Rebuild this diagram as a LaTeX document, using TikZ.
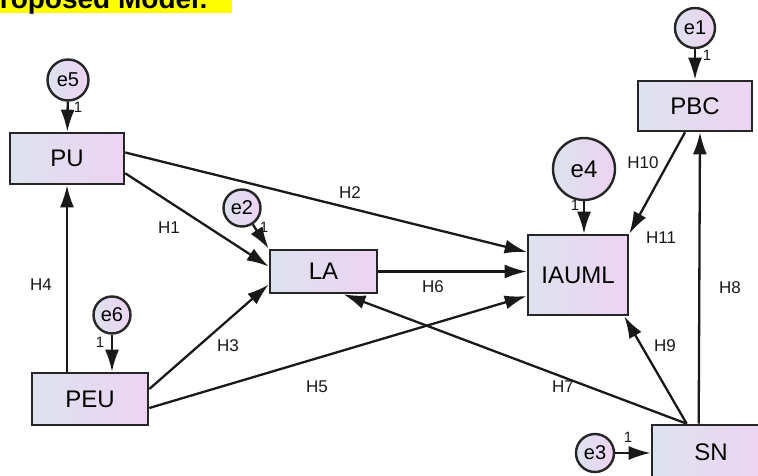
\documentclass[tikz,border=0pt]{standalone}
\usepackage{fontspec}
\setmainfont{Liberation Sans}
\usepackage{xcolor}
\usepackage{tikz}
\usetikzlibrary{arrows.meta, positioning, calc}

\definecolor{boxleft}{RGB}{221,226,238}
\definecolor{boxright}{RGB}{237,211,242}
\definecolor{banner}{RGB}{255,255,0}

\tikzset{
  construct/.style={rectangle, draw=black!85, line width=2.6pt, left color=boxleft,
    right color=boxright, inner sep=0pt, font=\fontsize{24}{26}\selectfont},
  errterm/.style={circle, draw=black!85, line width=2.4pt, left color=boxleft,
    right color=boxright, inner sep=0pt, font=\fontsize{20}{22}\selectfont},
  link/.style={draw=black!90, line width=2.3pt, -{Latex[length=22pt,width=14pt]}},
  hyp/.style={inner sep=1pt, font=\fontsize{17}{19}\selectfont, text=black!90},
  one/.style={inner sep=0pt, font=\fontsize{15}{16}\selectfont, text=black!90}
}

\begin{document}
\begin{tikzpicture}[x=1pt,y=-1pt]
  % Page frame
  \useasboundingbox (0,0) rectangle (758,476);
  \clip (0,0) rectangle (758,476);
  \fill[white] (0,0) rectangle (758,476);

  % Title banner
  \fill[banner] (0,0) rectangle (232,13);
  \node[anchor=base west, inner sep=0pt, font=\bfseries\fontsize{28}{30}\selectfont]
    (title) at (-19,9) {Proposed Model:};

  % Constructs
  \node[construct, minimum width=114pt, minimum height=51pt] (PU) at (67,158.5) {PU};
  \node[construct, minimum width=116pt, minimum height=52pt] (PEU) at (90,399) {PEU};
  \node[construct, minimum width=107pt, minimum height=43pt] (LA) at (323.5,271.5) {LA};
  \node[construct, minimum width=100pt, minimum height=80pt] (IAUML) at (578,275) {IAUML};
  \node[construct, minimum width=114pt, minimum height=50pt] (PBC) at (695,106) {PBC};
  \node[construct, minimum width=118pt, minimum height=54pt] (SN) at (711,452) {SN};

  % Error terms
  \node[errterm, minimum size=40pt] (e1) at (695,28) {e1};
  \node[errterm, minimum size=37pt] (e2) at (242,208) {e2};
  \node[errterm, minimum size=38pt] (e3) at (595,453) {e3};
  \node[errterm, minimum size=62pt, font=\fontsize{24}{26}\selectfont] (e4) at (584,169) {e4};
  \node[errterm, minimum size=41pt] (e5) at (68,80) {e5};
  \node[errterm, minimum size=37pt] (e6) at (112,315) {e6};

  % Error paths
  \draw[link] (e1.south) -- (e1.south |- PBC.north);
  \draw[link] (e2) -- (LA.north west);
  \draw[link] (e3) -- (e3 -| SN.west);
  \draw[link] (e4.south) -- (e4.south |- IAUML.north);
  \draw[link] (e5) -- (PU);
  \draw[link] (e6.south) -- (e6.south |- PEU.north);

  % Fixed loadings
  \node[one] (o1) at (707,55) {1};
  \node[one] (o2) at (264,227) {1};
  \node[one] (o3) at (628,437) {1};
  \node[one] (o4) at (575,205) {1};
  \node[one] (o5) at (78,107) {1};
  \node[one] (o6) at (100,342) {1};

  % Structural paths
  \draw[link] ($(PU.south east)+(0,-12)$) -- ($(LA.west)+(0,-5)$);
  \draw[link] ($(PU.east)+(0,-6)$) -- ($(IAUML.west)+(0,-23)$);
  \draw[link] ($(PEU.east)+(0,-10)$) -- ($(LA.west)+(0,13)$);
  \draw[link] ($(PEU.east)+(0,9)$) -- ($(IAUML.west)+(0,21)$);
  \draw[link] (PU.south |- PEU.north) -- (PU.south);
  \draw[link] (LA.east) -- (IAUML.west |- LA.east);
  \draw[link] ($(SN.north west)+(36,0)$) -- ($(LA.south)+(20,0)$);
  \draw[link] ($(SN.north west)+(36,0)$) -- ($(IAUML.south east)+(-5,0)$);
  \draw[link] ($(SN.north west)+(48,0)$) -- ($(PBC.south)+(5,0)$);
  \draw[link] ($(PBC.south)+(-10,0)$) -- (IAUML.north east);

  % Hypothesis labels
  \node[hyp] (h1) at (169,228) {H1};
  \node[hyp] (h2) at (350,193) {H2};
  \node[hyp] (h3) at (228,346) {H3};
  \node[hyp] (h4) at (41,285) {H4};
  \node[hyp] (h5) at (317,387) {H5};
  \node[hyp] (h6) at (433,287) {H6};
  \node[hyp] (h7) at (563,387) {H7};
  \node[hyp] (h8) at (730,288) {H8};
  \node[hyp] (h9) at (665,346) {H9};
  \node[hyp] (h10) at (643,163) {H10};
  \node[hyp] (h11) at (661,238) {H11};
\end{tikzpicture}
\end{document}
